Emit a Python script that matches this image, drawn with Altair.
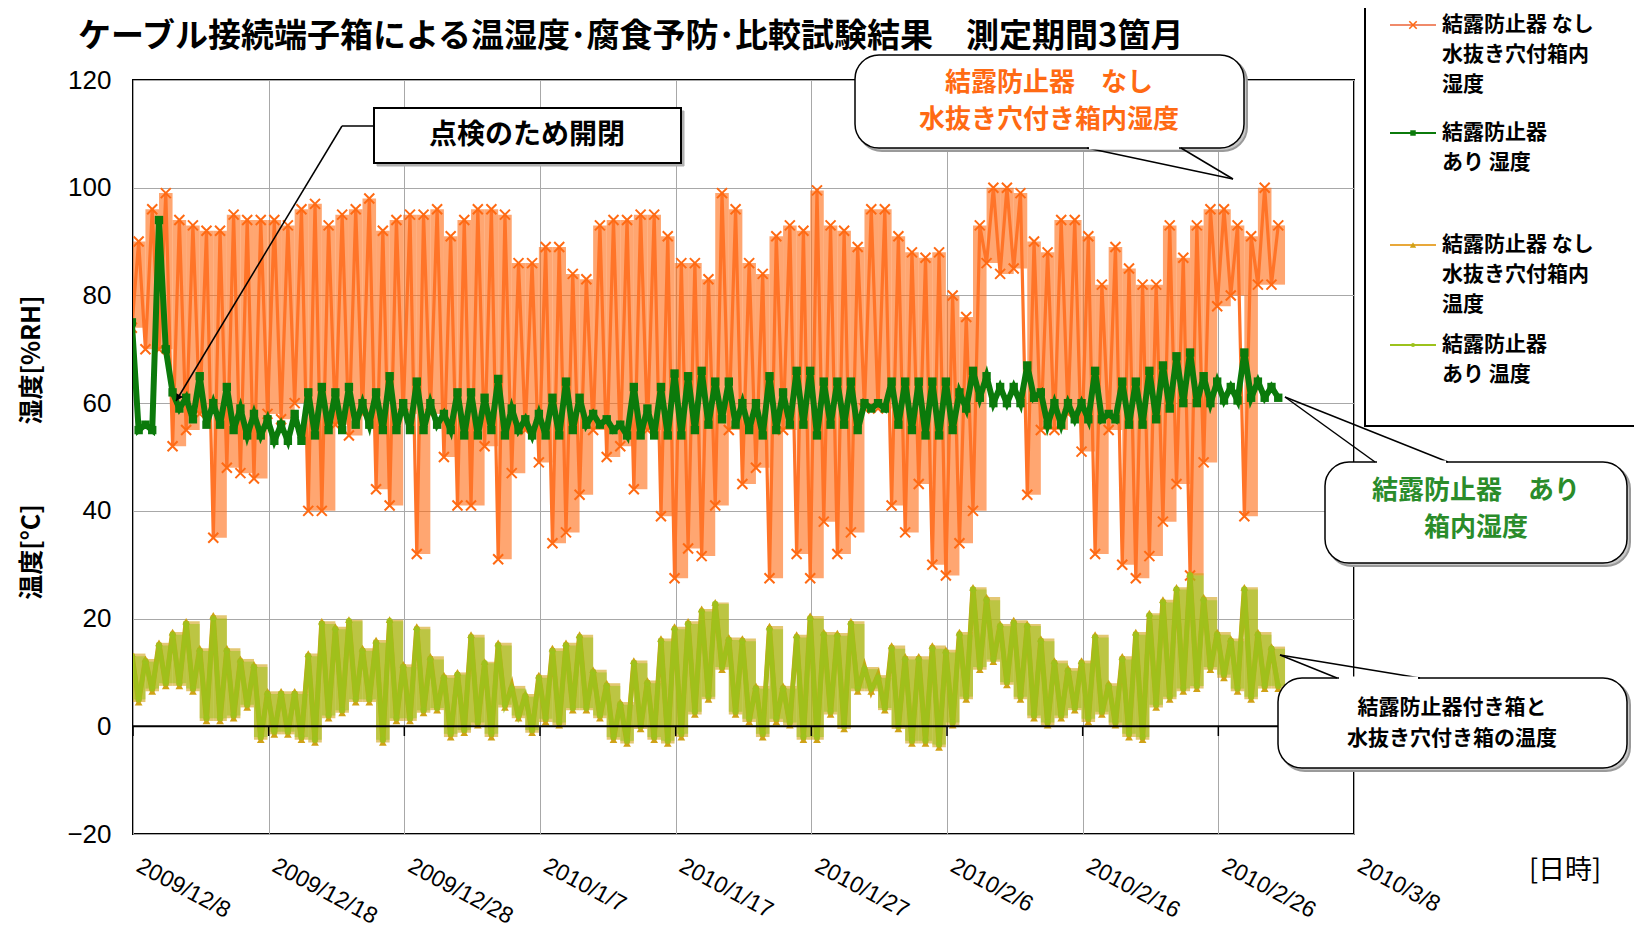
import altair as alt
import pandas as pd

# ---------------- texts ----------------
TITLE = "ケーブル接続端子箱による温湿度･腐食予防･比較試験結果　測定期間3箇月"
LEGEND_LINES = [
    ["結露防止器 なし", "水抜き穴付箱内", "湿度"],
    ["結露防止器", "あり  湿度"],
    ["結露防止器 なし", "水抜き穴付箱内", "温度"],
    ["結露防止器", "あり  温度"],
]
TICK_DATES = [(2009, 12, 8), (2009, 12, 18), (2009, 12, 28), (2010, 1, 7), (2010, 1, 17),
              (2010, 1, 27), (2010, 2, 6), (2010, 2, 16), (2010, 2, 26), (2010, 3, 8)]
Y_TICKS = [-20, 0, 20, 40, 60, 80, 100, 120]

# ---------------- daily readings (day 0 = 2009/12/8) ----------------
# humidity, box without dew preventer (drain hole): daily low / daily high [%RH]
hum_nashi_lo = [74, 70, 70, 52, 55, 58, 35, 48, 47, 46,
                58, 57, 60, 40, 40, 56, 54, 58, 44, 41,
                58, 32, 58, 50, 41, 41, 52, 31, 47, 55,
                49, 34, 36, 43, 55, 50, 52, 44, 55, 39,
                27.5, 33, 31.6, 41, 55, 45, 48, 27.5, 55, 32,
                27.5, 38, 32, 36, 59, 59, 41, 36, 45, 30,
                28, 34, 40, 86, 84, 85, 43, 55, 55, 58,
                51, 32, 55, 30, 27.5, 31.6, 38, 45, 28, 49,
                78, 80, 39, 82, 82]
hum_nashi_hi = [90, 96, 99, 94, 93, 92, 92, 95, 94, 94,
                94, 93, 96, 97, 93, 95, 96, 98, 92, 94,
                95, 95, 96, 91, 94, 96, 96, 95, 86, 86,
                89, 89, 84, 83, 93, 94, 94, 95, 95, 91,
                86, 86, 83, 99, 96, 86, 84, 91, 93, 92,
                99.5, 93, 92, 89, 96, 96, 91, 88, 87, 88,
                80, 76, 93, 100, 100, 99, 90, 88, 94, 94,
                91, 82, 89, 85, 82, 82, 93, 87, 93, 96,
                96, 93, 91, 100, 93]
# humidity, box with dew preventer: daily high / daily low [%RH]
hum_ari_hi = [75, 56, 94, 62, 61, 65, 60, 63, 59, 58,
              57, 56, 58, 62, 63, 62, 63, 60, 62, 65,
              60, 64, 60, 58, 62, 62, 61, 64.5, 59, 57,
              58, 61, 64, 61, 58, 57, 56, 63, 59, 63,
              65.5, 65, 66, 64, 64, 60, 60, 65, 62, 66,
              66, 64, 64, 64, 60, 60, 64, 64, 64, 64,
              64, 62, 66, 65, 63, 63, 67, 62, 60, 60,
              60, 66, 58, 64, 64, 66, 67, 68.7, 69.4, 65,
              64, 63, 69.4, 64, 63]
hum_ari_lo = [55, 55, 70, 59, 57, 56, 56, 55, 54, 54,
              53, 53, 53, 54, 55, 55, 56, 56, 55, 55,
              55, 55, 56, 55, 54, 54, 55, 54, 55, 54,
              54, 54, 55, 56, 56, 55, 54, 54, 54, 54,
              54, 55, 56, 57, 56, 55, 54, 55, 56, 56,
              54, 56, 56, 55, 59, 59, 56, 55, 54, 54,
              55, 59, 61, 60, 60, 60, 61, 56, 56, 57,
              57, 57, 57, 56, 56, 57, 59, 60, 60, 60,
              60.5, 60.5, 61, 61, 61]
# temperature, box without dew preventer: daily high / daily low [°C]
temp_nashi_hi = [13.5, 12.5, 15.5, 17.5, 19.5, 14.5, 20.6, 14.5, 12.5, 11.5,
                 6.5, 6.5, 6.5, 13.5, 19.5, 18.5, 19.8, 14.5, 16, 19.8,
                 11.5, 18.5, 13, 9.5, 10, 17, 12, 15.5, 7.5, 6,
                 9.5, 14.5, 15.5, 17, 10.5, 8, 4.5, 12.2, 8.5, 16.3,
                 18.5, 19.5, 21.8, 23, 16.5, 16.3, 7.5, 18.6, 7.5, 17,
                 20.5, 17.5, 17.3, 19.5, 11, 9.5, 15, 13, 13, 15,
                 14.2, 17.5, 25.8, 24, 19, 19.7, 19, 16.3, 12.2, 10.8,
                 12.2, 17, 8, 13, 17.5, 21, 23.5, 25.8, 28.4, 24,
                 17.5, 16.3, 25.8, 17.5, 14.8]
temp_nashi_lo = [4.5, 6.5, 7.5, 7.5, 6.5, 1, 1, 1.5, 3.5, -2.5,
                 -1.5, -1.5, -2.5, -3, 1.5, 2.5, 4.5, 4.5, -3, 1,
                 1, 2.5, 3, -2, -1.2, 0.2, -2, 3.5, 1.5, -1.2,
                 0.8, 0.2, 3, 3, 1.5, -2.5, -3.2, -0.5, -2.5, -3.2,
                 -2, 2.2, 5, 10.5, 2.2, 0.8, -2, 0.8, 0.2, -2.5,
                 -2.5, 2.2, -0.5, 6.5, 6.5, 3, -0.5, -3.2, -3.2, -3.9,
                 0.2, 5, 10.5, 12, 7.7, 5, 1.5, 0.2, 1.5, 3,
                 0.8, 2.2, 0.2, -2, -2.5, 3.5, 5, 6.5, 7, 10.5,
                 9, 6.5, 5, 7, 7]
# temperature, box with dew preventer: daily high / daily low [°C]
temp_ari_hi = [13, 12, 15, 17, 19, 14, 20, 14, 12, 11,
               6, 6, 6, 13, 19, 18, 19.5, 14, 15.5, 19.5,
               11, 18, 12.4, 9, 9.6, 16.5, 11.7, 15, 7, 5.5,
               9, 14, 15, 16.5, 10, 7.5, 4, 11.7, 8, 15.8,
               18, 19, 21.3, 22.7, 16, 15.8, 7, 18, 7, 16.5,
               20, 17, 16.8, 19, 10.6, 9, 14.4, 12.4, 12.4, 14.4,
               13.7, 17, 25.4, 23.4, 18.6, 19.2, 18.6, 15.8, 11.7, 10.3,
               11.7, 16.5, 7.5, 12.4, 17, 20.6, 23, 25.4, 28, 23.4,
               17, 15.8, 25.4, 17, 14.4]
temp_ari_lo = [5, 7, 8, 8, 7, 1.5, 1.5, 2, 4, -2,
               -1, -1, -2, -2.5, 2, 3, 5, 5, -2.5, 1.5,
               1.5, 3, 3.4, -1.4, -0.7, 0.7, -1.4, 4, 2, -0.7,
               1.4, 0.7, 3.4, 3.4, 2, -2, -2.7, 0, -2, -2.7,
               -1.4, 2.7, 5.5, 11, 2.7, 1.4, -1.4, 1.4, 0.7, -2,
               -2, 2.7, 0, 7, 7, 3.4, 0, -2.7, -2.7, -3.4,
               0.7, 5.5, 11, 12.4, 8.2, 5.5, 2, 0.7, 2, 3.4,
               1.4, 2.7, 0.7, -1.4, -2, 4, 5.5, 7, 7.5, 11,
               9.6, 7, 5.5, 7.5, 7.5]

for lst in [hum_nashi_lo, hum_nashi_hi, hum_ari_hi, hum_ari_lo,
            temp_nashi_hi, temp_nashi_lo, temp_ari_hi, temp_ari_lo]:
    assert len(lst) == 85, len(lst)

START = pd.Timestamp("2009-12-08 00:00:00")


def zigzag(first, second, h1, h2):
    t, v = [], []
    for i, (a, b) in enumerate(zip(first, second)):
        t.append(START + pd.Timedelta(hours=24 * i + h1))
        v.append(a)
        t.append(START + pd.Timedelta(hours=24 * i + h2))
        v.append(b)
    return pd.DataFrame({"t": t, "v": v})


def daily_band(lo, hi):
    return pd.DataFrame({
        "t": [START + pd.Timedelta(hours=24 * i - 2) for i in range(len(lo))],
        "t1": [START + pd.Timedelta(hours=24 * i + 22) for i in range(len(lo))],
        "v": lo, "v2": hi,
    })


df_hn = zigzag(hum_nashi_lo, hum_nashi_hi, -2, 10)
df_ha = zigzag(hum_ari_hi, hum_ari_lo, -2, 10)
df_tn = zigzag(temp_nashi_hi, temp_nashi_lo, -2, 10)
df_ta = zigzag(temp_ari_hi, temp_ari_lo, -2, 10)
band_hn = daily_band(hum_nashi_lo, hum_nashi_hi)
band_tn = daily_band(temp_nashi_lo, temp_nashi_hi)
band_ta = daily_band(temp_ari_lo, temp_ari_hi)
df_ticks = pd.DataFrame({"t": [pd.Timestamp(year=y, month=m, day=d) for y, m, d in TICK_DATES]})

# ---------------- styles ----------------
JP = "Noto Sans CJK JP"
NUM = "Liberation Sans"
ORANGE = "#FF6A13"
GREEN = "#0B7A0B"
T_NASHI = "#D0A216"
T_ARI = "#9CC21C"
XPATH = "M-1,-1L1,1M-1,1L1,-1"

XSCALE = alt.Scale(domain=[alt.DateTime(year=2009, month=12, date=8),
                           alt.DateTime(year=2010, month=3, date=8)])
YSCALE = alt.Scale(domain=[-20, 120], nice=False, zero=False)
X_AXIS = alt.Axis(
    values=[alt.DateTime(year=y, month=m, date=d) for y, m, d in TICK_DATES],
    format="%Y/%-m/%-d", labelAngle=28, labelAlign="left", labelBaseline="top",
    labelPadding=20, labelOffset=10, labelFontSize=23, labelFont=NUM, labelColor="black",
    labelFlush=False, labelOverlap=False, labelBound=False,
    ticks=False, domain=False, grid=True, gridColor="#A8A8A8", gridWidth=1)
Y_AXIS = alt.Axis(values=Y_TICKS, labelFontSize=26, labelFont=NUM, labelColor="black",
                  labelPadding=22, ticks=False, domain=False, grid=True,
                  gridColor="#A8A8A8", gridWidth=1)
X = alt.X("t:T", title=None, scale=XSCALE, axis=X_AXIS)
Y = alt.Y("v:Q", title=None, scale=YSCALE, axis=Y_AXIS)


def band(df, color, opacity):
    return alt.Chart(df).mark_rect(color=color, opacity=opacity, clip=True).encode(
        x=X, x2="t1:T", y=Y, y2="v2:Q")


layers = []
# orange humidity
layers.append(band(band_hn, ORANGE, 0.6))
layers.append(alt.Chart(df_hn).mark_line(color="#FF7428", strokeWidth=3.2, clip=True).encode(x=X, y=Y))
layers.append(alt.Chart(df_hn).mark_point(shape=XPATH, filled=False, color=ORANGE, strokeWidth=2,
                                          size=100, opacity=1, clip=True).encode(x=X, y=Y))
# green humidity
layers.append(alt.Chart(df_ha).mark_line(color=GREEN, strokeWidth=6, clip=True).encode(x=X, y=Y))
layers.append(alt.Chart(df_ha).mark_point(shape="square", filled=True, color=GREEN, size=70,
                                          opacity=1, clip=True).encode(x=X, y=Y))
# temperatures
layers.append(band(band_tn, T_NASHI, 0.6))
layers.append(alt.Chart(df_tn).mark_line(color=T_NASHI, strokeWidth=5, clip=True).encode(x=X, y=Y))
layers.append(alt.Chart(df_tn).mark_point(shape="triangle-up", filled=True, color=T_NASHI, size=60,
                                          opacity=1, clip=True).encode(x=X, y=Y))
layers.append(band(band_ta, T_ARI, 0.55))
layers.append(alt.Chart(df_ta).mark_line(color=T_ARI, strokeWidth=4.5, opacity=0.85, clip=True).encode(x=X, y=Y))
layers.append(alt.Chart(df_ta).mark_point(shape="circle", filled=True, color=T_ARI, size=40,
                                          opacity=0.85, clip=True).encode(x=X, y=Y))

ONE = pd.DataFrame({"k": [0]})
# zero line and its ticks
layers.append(alt.Chart(ONE).mark_rule(color="black", strokeWidth=2).encode(y=alt.datum(0)))
layers.append(alt.Chart(df_ticks).mark_rule(color="black", strokeWidth=1.5).encode(
    x=X, y=alt.datum(0), y2=alt.datum(-1.8)))


def txt(s, x, y, size, color="black", weight="bold", align="center", angle=0, font=JP, baseline="middle"):
    return alt.Chart(ONE).mark_text(text=s, fontSize=size, color=color, fontWeight=weight, align=align,
                                    baseline=baseline, font=font, angle=angle).encode(
        x=alt.value(x), y=alt.value(y))


def box(x1, x2, y1, y2, radius=0, stroke="black", sw=1.5, fill="white", opacity=1):
    return alt.Chart(ONE).mark_rect(fill=fill, stroke=stroke, strokeWidth=sw, cornerRadius=radius,
                                    opacity=opacity).encode(
        x=alt.value(x1), x2=alt.value(x2), y=alt.value(y1), y2=alt.value(y2))


def seg(x1, y1, x2, y2, color="black", w=1.5):
    return alt.Chart(ONE).mark_rule(color=color, strokeWidth=w).encode(
        x=alt.value(x1), x2=alt.value(x2), y=alt.value(y1), y2=alt.value(y2))


def pt(x, y, shape, color, size, filled=True, sw=1, angle=0):
    return alt.Chart(ONE).mark_point(shape=shape, color=color, size=size, filled=filled,
                                     strokeWidth=sw, opacity=1, angle=angle).encode(
        x=alt.value(x), y=alt.value(y))


def bubble(x1, x2, y1, y2, tip, b1, b2):
    out = [box(x1 + 3, x2 + 3, y1 + 3, y2 + 3, radius=24, stroke="#9A9A9A", sw=2, fill="#C8C8C8"),
           box(x1, x2, y1, y2, radius=24, stroke="black", sw=1.5)]
    out.append(seg(b1[0], b1[1], tip[0], tip[1]))
    out.append(seg(b2[0], b2[1], tip[0], tip[1]))
    out.append(seg(b1[0] + 2, b1[1], b2[0] - 2, b2[1], color="white", w=3))
    return out


# title
layers.append(txt(TITLE, -55, -59, 33, align="left", baseline="top"))

# axis titles
layers.append(txt("湿度[%RH]", -101, 280, 25, angle=270))
layers.append(txt("温度[°C]", -101, 472, 25, angle=270))
layers.append(txt("[日時]", 1432, 791, 27, weight="normal"))

# inspection callout
layers.append(box(244, 551, 31, 86, fill="#B0B0B0", stroke="#B0B0B0", sw=1))
layers.append(box(241, 548, 28, 83, stroke="black", sw=2))
layers.append(txt("点検のため開閉", 394, 56, 28))
layers.append(seg(241, 46, 209, 46))
layers.append(seg(209, 46, 43, 321))
layers.append(pt(45, 318, "triangle-up", "black", 60, angle=211))

# orange humidity callout
layers += bubble(722, 1111, -25, 68, (1100, 99), (954, 68), (1048, 68))
layers.append(txt("結露防止器　なし", 916, 3, 26, color=ORANGE))
layers.append(txt("水抜き穴付き箱内湿度", 916, 40, 26, color=ORANGE))

# green humidity callout
layers += bubble(1192, 1494, 382, 483, (1152, 317), (1242, 382), (1315, 382))
layers.append(txt("結露防止器　あり", 1343, 411, 26, color="#2A8C2A"))
layers.append(txt("箱内湿度", 1343, 448, 26, color="#2A8C2A"))

# temperature callout
layers += bubble(1145, 1494, 598, 688, (1147, 575), (1204, 598), (1287, 598))
layers.append(txt("結露防止器付き箱と", 1319, 628, 21))
layers.append(txt("水抜き穴付き箱の温度", 1319, 659, 21))

# legend
layers.append(box(1232, 1530, -77, 346, stroke="black", sw=2))
legend_rows = [
    (-55, ["#F08A6A", ORANGE, XPATH, False, 55], [-55, -25, 5]),
    (53, [GREEN, GREEN, "square", True, 30], [53, 83]),
    (165, ["#E8A83A", T_NASHI, "triangle-up", True, 40], [165, 195, 225]),
    (265, [T_ARI, T_ARI, "circle", True, 18], [265, 295]),
]
for (ly, (lc, mc, shp, fl, sz), ys), lines in zip(legend_rows, LEGEND_LINES):
    layers.append(seg(1257, ly, 1303, ly, color=lc, w=2))
    layers.append(pt(1280, ly, shp, mc, sz, filled=fl, sw=1.6))
    for yy, s in zip(ys, lines):
        layers.append(txt(s, 1309, yy, 21, align="left"))

chart = alt.layer(*layers).properties(
    width=1221, height=754,
    autosize=alt.AutoSizeParams(type="none"),
    padding={"left": 125, "top": 72, "right": 280, "bottom": 100},
    background="white",
).configure_view(stroke="black", strokeWidth=2)

chart.save("out.html", embed_options={"renderer": "svg", "actions": False})
